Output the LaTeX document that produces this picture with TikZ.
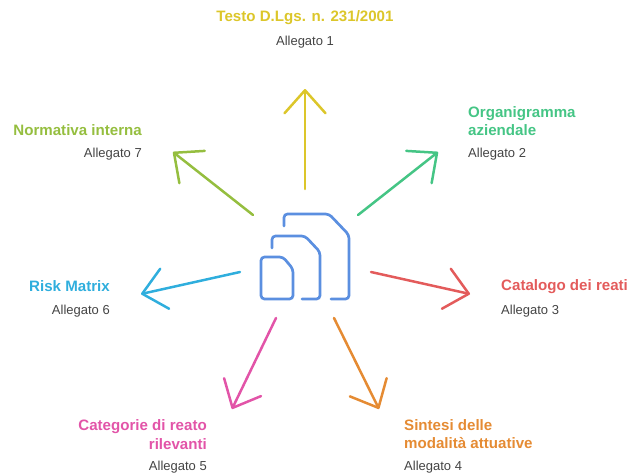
\documentclass[tikz,border=0pt]{standalone}
\usepackage{xcolor}
\usepackage{fontspec}
\setmainfont{Liberation Sans}
\definecolor{doc_blue}{HTML}{5B8FE0}
\definecolor{note_gray}{HTML}{444444}
\definecolor{testo_yellow}{HTML}{DCC62A}
\definecolor{org_green}{HTML}{45C585}
\definecolor{cat_red}{HTML}{E35B5B}
\definecolor{sint_orange}{HTML}{E58B33}
\definecolor{rel_pink}{HTML}{E254A8}
\definecolor{risk_blue}{HTML}{2FAEDD}
\definecolor{norm_olive}{HTML}{95BE3F}
\usetikzlibrary{arrows.meta,positioning}

\begin{document}
\begin{tikzpicture}[x=1pt,y=-1pt]
\tikzset{
    title/.style={inner sep=0pt,font=\fontsize{15.1}{18.5}\selectfont\bfseries},
    note/.style={inner sep=0pt,text=note_gray,font=\fontsize{13}{14}\selectfont},
    edge/.style={line width=2.5pt,line cap=round,-{Straight Barb[length=23pt,width=41pt,round]}},
    doc/.style={color=doc_blue,line width=2.7pt,line cap=round,rounded corners=3.5pt}
}
\useasboundingbox (0,0) rectangle (628,475);
% icon
\draw[doc] (284,226) -- (284,214) -- (329,214) -- (349,235) -- (349,299) -- (331,299);
\draw[doc] (272,248) -- (272,236) -- (305,236) -- (320,252) -- (320,299) -- (302,299);
\draw[doc] (261,257) -- (283,257) -- (293,269) -- (293,299) -- (261,299) -- cycle;
% labels
\node[title,text=testo_yellow] (t1) at (305,18) {Testo D.Lgs. n. 231/2001};
\node[note] (n1) at (305,42.5) {Allegato 1};
\node[title,text=org_green,align=left,anchor=west] (t2) at (468,121) {Organigramma\\aziendale};
\node[note,anchor=west] (n2) at (468,154) {Allegato 2};
\node[title,text=cat_red,anchor=west] (t3) at (501,287) {Catalogo dei reati};
\node[note,anchor=west] (n3) at (501,311) {Allegato 3};
\node[title,text=sint_orange,align=left,anchor=west] (t4) at (404,434) {Sintesi delle\\modalità attuative};
\node[note,anchor=west] (n4) at (404,467) {Allegato 4};
\node[title,text=rel_pink,align=right,anchor=east] (t5) at (207,434.5) {Categorie di reato\\rilevanti};
\node[note,anchor=east] (n5) at (207,467) {Allegato 5};
\node[title,text=risk_blue,anchor=east] (t6) at (110,286) {Risk Matrix};
\node[note,anchor=east] (n6) at (110,311) {Allegato 6};
\node[title,text=norm_olive,anchor=east] (t7) at (142,130) {Normativa interna};
\node[note,anchor=east] (n7) at (142,154) {Allegato 7};
% arrow ends
\coordinate (s1) at (305,189); \coordinate (e1) at (305,89);
\coordinate (s2) at (358,215); \coordinate (e2) at (438,152);
\coordinate (s3) at (371,272); \coordinate (e3) at (470,294);
\coordinate (s4) at (334,318); \coordinate (e4) at (379,409);
\coordinate (s5) at (276,318); \coordinate (e5) at (232,409);
\coordinate (s6) at (240,272); \coordinate (e6) at (141,294);
\coordinate (s7) at (253,215); \coordinate (e7) at (173,152);
% edges
\draw[edge, color=testo_yellow] (s1) -- (e1);
\draw[edge, color=org_green] (s2) -- (e2);
\draw[edge, color=cat_red] (s3) -- (e3);
\draw[edge, color=sint_orange] (s4) -- (e4);
\draw[edge, color=rel_pink] (s5) -- (e5);
\draw[edge, color=risk_blue] (s6) -- (e6);
\draw[edge, color=norm_olive] (s7) -- (e7);
\end{tikzpicture}
\end{document}
